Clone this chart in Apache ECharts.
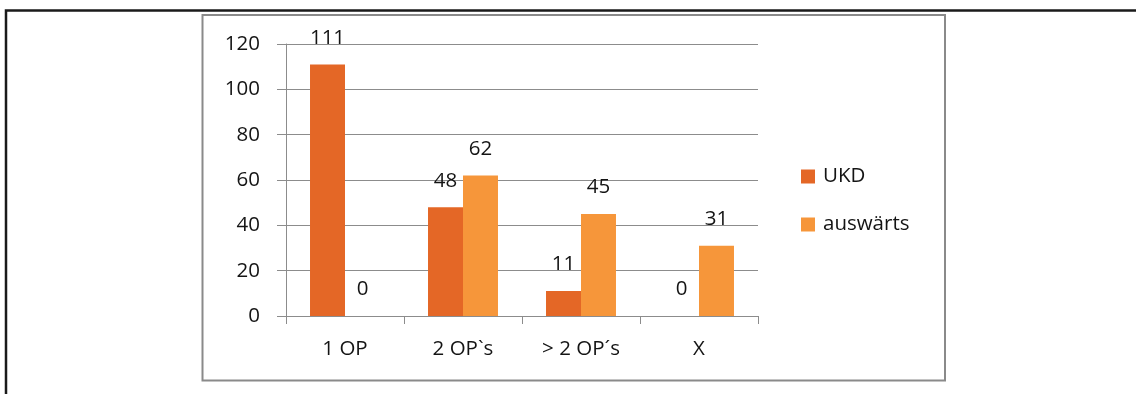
<!DOCTYPE html>
<html>
<head>
<meta charset="utf-8">
<script src="https://cdn.jsdelivr.net/npm/echarts@6/dist/echarts.min.js"></script>
<style>
  html, body { margin: 0; padding: 0; background: #ffffff; }
  #chart { width: 1136px; height: 394px; }
</style>
</head>
<body>
<div id="chart"></div>
<script>
// Number of operations per patient, split by where they were done
const categories = ['1 OP', '2 OP`s', '> 2 OP´s', 'X'];
const seriesNames = ['UKD', 'auswärts'];
const ukdValues = [111, 48, 11, 0];
const auswaertsValues = [0, 62, 45, 31];
const yTicks = { min: 0, max: 120, interval: 20 };

const FONT = 'Open Sans';
const FONT_SIZE = 20.5;
const TEXT = '#141414';
const GRID = '#8c8c8c';

const labelStyle = {
  show: true,
  position: 'top',
  distance: 16,
  fontFamily: FONT,
  fontSize: FONT_SIZE,
  color: TEXT
};

const chart = echarts.init(document.getElementById('chart'), null, { renderer: 'canvas' });
chart.setOption({
  animation: false,
  backgroundColor: '#ffffff',
  graphic: [
    {
      type: 'rect',
      shape: { x: 6, y: 10.5, width: 1300, height: 600 },
      style: { fill: 'none', stroke: '#1a1a1a', lineWidth: 2.5 },
      silent: true
    },
    {
      type: 'rect',
      shape: { x: 202.5, y: 15, width: 742.5, height: 365.5 },
      style: { fill: 'none', stroke: '#8a8a8a', lineWidth: 2 },
      silent: true
    }
  ],
  grid: { left: 286, right: 378, top: 44, bottom: 78, containLabel: false },
  legend: {
    orient: 'vertical',
    left: 796,
    top: 161,
    itemWidth: 14,
    itemHeight: 14,
    itemGap: 27,
    icon: 'rect',
    textStyle: { fontFamily: FONT, fontSize: FONT_SIZE, color: TEXT, padding: [0, 0, 0, 3] },
    data: seriesNames
  },
  xAxis: {
    type: 'category',
    data: categories,
    axisLine: { lineStyle: { color: GRID, width: 1 } },
    axisTick: { show: true, length: 8, lineStyle: { color: GRID } },
    axisLabel: { fontFamily: FONT, fontSize: FONT_SIZE, color: TEXT, margin: 23 }
  },
  yAxis: {
    type: 'value',
    min: yTicks.min,
    max: yTicks.max,
    interval: yTicks.interval,
    axisLine: { show: true, lineStyle: { color: GRID, width: 1 } },
    axisTick: { show: true, length: 9, lineStyle: { color: GRID } },
    splitLine: { show: true, lineStyle: { color: GRID, width: 1 } },
    axisLabel: { fontFamily: FONT, fontSize: FONT_SIZE, color: TEXT, margin: 26 }
  },
  series: [
    {
      name: seriesNames[0],
      type: 'bar',
      data: ukdValues,
      barGap: '0%',
      barCategoryGap: '40.7%',
      itemStyle: { color: '#E46726' },
      label: labelStyle
    },
    {
      name: seriesNames[1],
      type: 'bar',
      data: auswaertsValues,
      barGap: '0%',
      barCategoryGap: '40.7%',
      itemStyle: { color: '#F6963A' },
      label: labelStyle
    }
  ]
});
</script>
</body>
</html>
